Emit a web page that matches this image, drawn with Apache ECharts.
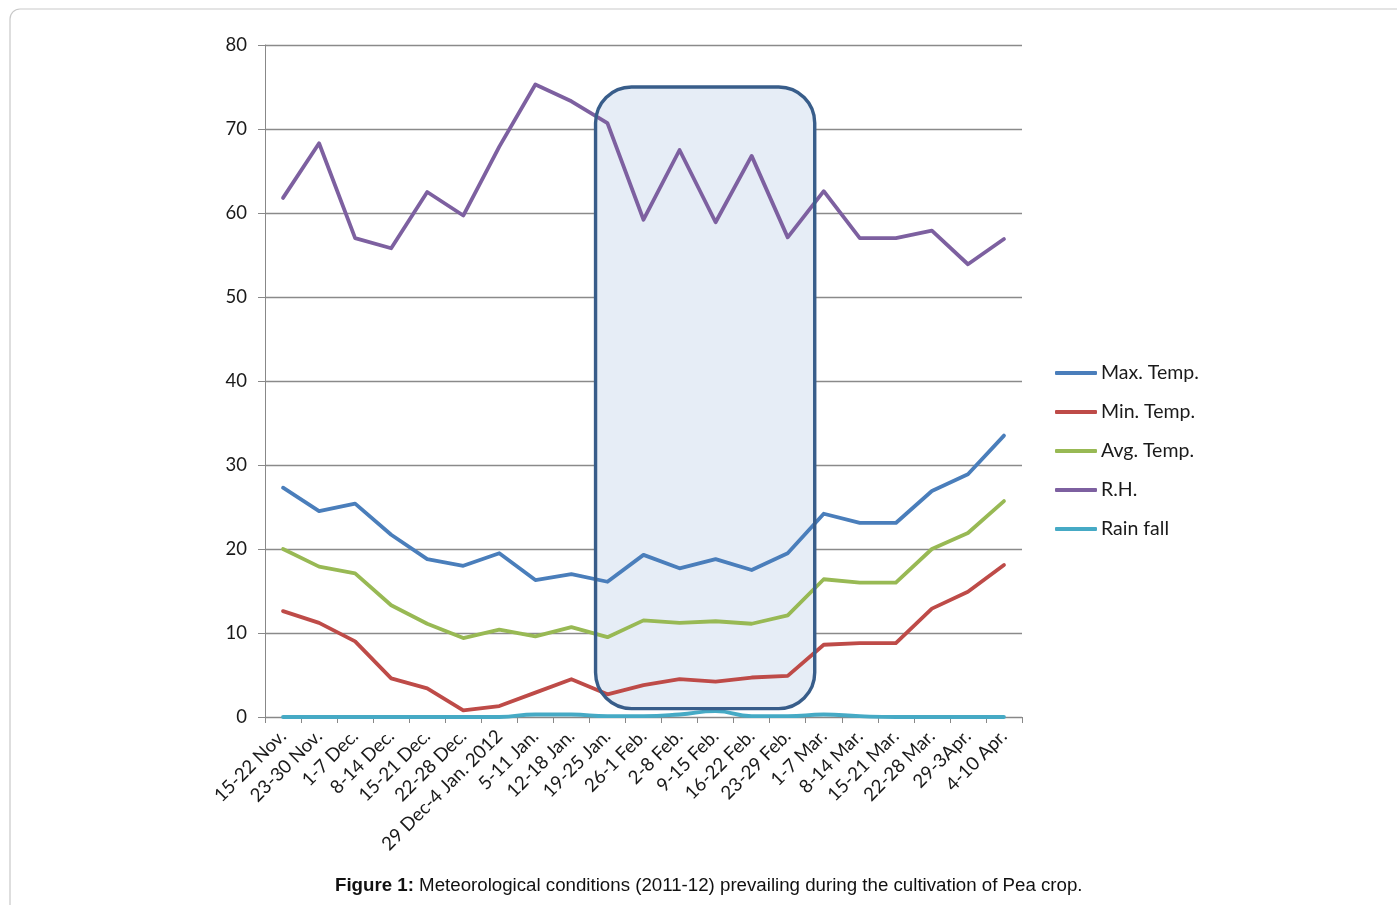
<!DOCTYPE html>
<html>
<head>
<meta charset="utf-8">
<script src="https://cdn.jsdelivr.net/npm/echarts@6/dist/echarts.min.js"></script>
<style>
  html, body { margin: 0; padding: 0; background: #ffffff; }
  #chart { width: 1397px; height: 905px; }
</style>
</head>
<body>
<div id="chart"></div>
<script>
// Weekly periods of the 2011-12 pea growing season
const weeks = [
  '15-22 Nov.', '23-30 Nov.', '1-7 Dec.', '8-14 Dec.', '15-21 Dec.', '22-28 Dec.',
  '29 Dec-4 Jan. 2012', '5-11 Jan.', '12-18 Jan.', '19-25 Jan.', '26-1 Feb.',
  '2-8 Feb.', '9-15 Feb.', '16-22 Feb.', '23-29 Feb.', '1-7 Mar.', '8-14 Mar.',
  '15-21 Mar.', '22-28 Mar.', '29-3Apr.', '4-10 Apr.'
];

const maxTemp  = [27.3, 24.5, 25.4, 21.7, 18.8, 18.0, 19.5, 16.3, 17.0, 16.1, 19.3,
                  17.7, 18.8, 17.5, 19.5, 24.2, 23.1, 23.1, 26.9, 28.9, 33.5];
const minTemp  = [12.6, 11.2, 9.0, 4.6, 3.4, 0.8, 1.3, 2.9, 4.5, 2.7, 3.8,
                  4.5, 4.2, 4.7, 4.9, 8.6, 8.8, 8.8, 12.9, 14.9, 18.1];
const avgTemp  = [20.0, 17.9, 17.1, 13.3, 11.1, 9.4, 10.4, 9.6, 10.7, 9.5, 11.5,
                  11.2, 11.4, 11.1, 12.1, 16.4, 16.0, 16.0, 20.0, 21.9, 25.7];
const relHum   = [61.8, 68.3, 57.0, 55.8, 62.5, 59.7, 67.9, 75.3, 73.3, 70.7, 59.2,
                  67.5, 58.9, 66.8, 57.1, 62.6, 57.0, 57.0, 57.9, 53.9, 56.9];
const rainFall = [0, 0, 0, 0, 0, 0, 0, 0.3, 0.3, 0.1, 0.1,
                  0.3, 0.7, 0.1, 0.1, 0.3, 0.1, 0, 0, 0, 0];

const yTicks = { min: 0, max: 80, interval: 10 };

// Weeks enclosed by the highlight box, and its value range
const highlight = { fromIndex: 9, toIndex: 14, low: 1, high: 75 };

const seriesDefs = [
  { name: 'Max. Temp.', data: maxTemp,  color: '#4A7EBB' },
  { name: 'Min. Temp.', data: minTemp,  color: '#BE4B48' },
  { name: 'Avg. Temp.', data: avgTemp,  color: '#98B954' },
  { name: 'R.H.',       data: relHum,   color: '#7D60A0' },
  { name: 'Rain fall',  data: rainFall, color: '#46AAC5', smooth: true }
];

const FONT = 'Lato, "Open Sans", sans-serif';
const CAPTION_FONT = '"Liberation Sans", Arial, sans-serif';

const chart = echarts.init(document.getElementById('chart'), null, { renderer: 'canvas' });

chart.setOption({
  animation: false,
  backgroundColor: '#ffffff',
  grid: { left: 265, right: 375, top: 45, bottom: 188, containLabel: false },
  legend: {
    orient: 'vertical',
    left: 1055,
    top: 363,
    padding: 0,
    icon: 'roundRect',
    itemWidth: 42,
    itemHeight: 4,
    itemGap: 19,
    textStyle: { fontFamily: FONT, fontSize: 19.5, color: '#1a1a1a', lineHeight: 20, padding: [0, 0, 0, -1] },
    data: seriesDefs.map(s => s.name)
  },
  xAxis: {
    type: 'category',
    data: weeks,
    boundaryGap: true,
    axisLine: { show: true, lineStyle: { color: '#888888', width: 1 } },
    axisTick: { show: true, length: 6, interval: 0, lineStyle: { color: '#888888' } },
    axisLabel: {
      interval: 0, rotate: 45, margin: 16,
      fontFamily: FONT, fontSize: 18.7, color: '#1a1a1a'
    },
    splitLine: { show: false }
  },
  yAxis: {
    type: 'value',
    min: yTicks.min, max: yTicks.max, interval: yTicks.interval,
    axisLine: { show: true, lineStyle: { color: '#888888', width: 1 } },
    axisTick: { show: true, length: 7, lineStyle: { color: '#888888' } },
    axisLabel: { margin: 18, fontFamily: FONT, fontSize: 18.5, color: '#1a1a1a' },
    splitLine: { show: true, lineStyle: { color: '#8a8a8a', width: 1.3 } }
  },
  series: seriesDefs.map(s => ({
    name: s.name,
    type: 'line',
    data: s.data,
    smooth: !!s.smooth,
    showSymbol: false,
    symbol: 'none',
    z: 3,
    color: s.color,
    lineStyle: { color: s.color, width: 3.8, cap: 'round', join: 'round' }
  }))
});

// Rounded highlight box placed in axis coordinates: fill sits under the lines, border above
function drawHighlight() {
  const xa = i => chart.convertToPixel({ xAxisIndex: 0 }, i);
  const ya = v => chart.convertToPixel({ yAxisIndex: 0 }, v);
  const band = xa(1) - xa(0);
  const left = xa(highlight.fromIndex) - 0.33 * band;
  const right = xa(highlight.toIndex) + 0.75 * band;
  const top = ya(highlight.high);
  const bottom = ya(highlight.low);
  const shape = { x: left, y: top, width: right - left, height: bottom - top, r: 36 };
  chart.setOption({
    graphic: [
      {
        id: 'frame', type: 'rect', z: 0, silent: true,
        shape: { x: 10, y: 9, width: 1420, height: 940, r: 10 },
        style: { fill: null, stroke: '#c9c9c9', lineWidth: 1.2 }
      },
      {
        id: 'boxFill', type: 'rect', z: 1, silent: true, shape: shape,
        style: { fill: '#E6EDF6', stroke: null }
      },
      {
        id: 'boxEdge', type: 'rect', z: 10, silent: true, shape: shape,
        style: { fill: null, stroke: '#385D8A', lineWidth: 3.4 }
      },
      {
        id: 'caption', type: 'text', z: 10, silent: true,
        left: 335, top: 876,
        style: {
          text: '{b|Figure 1:} Meteorological conditions (2011-12) prevailing during the cultivation of Pea crop.',
          rich: {
            b: { fontFamily: CAPTION_FONT, fontSize: 18.7, fontWeight: 'bold', fill: '#111' }
          },
          fontFamily: CAPTION_FONT,
          fontSize: 18.7,
          fill: '#111'
        }
      }
    ]
  });
}
drawHighlight();
</script>
</body>
</html>
